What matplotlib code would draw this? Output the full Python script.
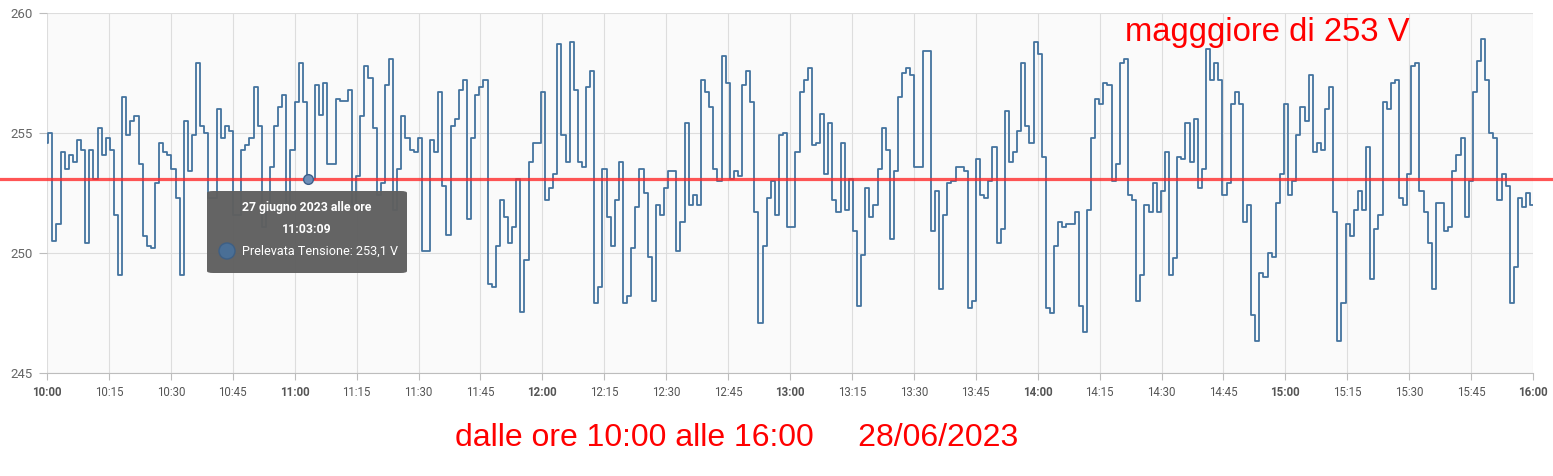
import matplotlib
matplotlib.use('Agg')
import matplotlib.pyplot as plt
from matplotlib.patches import FancyBboxPatch, Ellipse
from matplotlib.lines import Line2D
from matplotlib.transforms import blended_transform_factory
import numpy as np
import pandas as pd

# dati: tensione prelevata, un campione circa ogni minuto dalle 10:00 alle 16:00
start = pd.Timestamp('2023-06-28 10:00')
end = pd.Timestamp('2023-06-28 16:00')
first_value = 254.6          # valore alle 10:00 prima del primo campione
first_sample_min = 0.3       # minuti dopo le 10:00 del primo campione
last_sample_min = 359.35     # minuti dopo le 10:00 dell'ultimo campione

tensione = [
    255.0, 250.5, 251.2, 254.2, 253.5, 254.1, 253.8, 254.7, 254.3, 250.4,
    254.3, 253.1, 255.2, 254.1, 254.8, 254.3, 251.6, 249.1, 256.5, 254.9,
    255.5, 255.7, 253.7, 250.7, 250.3, 250.2, 252.9, 254.6, 254.2, 254.1,
    253.5, 252.3, 249.1, 255.5, 253.4, 254.9, 257.9, 255.3, 255.0, 252.3,
    252.3, 256.0, 254.8, 255.3, 255.1, 251.6, 251.6, 254.3, 254.5, 254.8,
    256.9, 255.3, 251.1, 251.8, 253.6, 255.3, 256.1, 256.6, 251.9, 254.3,
    256.3, 257.9, 256.3, 253.1, 253.1, 257.0, 255.75, 257.1, 253.7, 253.7,
    256.4, 256.35, 256.35, 256.8, 252.0, 253.2, 255.7, 257.8, 257.3, 255.2,
    252.4, 252.9, 257.0, 258.1, 251.8, 253.5, 255.7, 254.8, 254.3, 254.2,
    254.8, 250.1, 250.1, 254.7, 254.2, 256.7, 252.8, 250.75, 255.3, 255.6,
    256.8, 257.2, 251.4, 254.8, 256.6, 256.9, 257.2, 248.7, 248.6, 250.3,
    252.2, 251.5, 250.4, 251.1, 253.1, 247.55, 249.7, 253.8, 254.6, 254.6,
    256.7, 252.2, 252.7, 253.3, 258.7, 254.9, 253.8, 258.8, 256.8, 253.8,
    253.6, 256.9, 257.6, 247.9, 248.6, 253.5, 251.5, 250.3, 252.2, 253.8,
    247.9, 248.2, 250.2, 251.9, 253.5, 252.5, 249.85, 248.0, 252.0, 251.6,
    252.7, 253.4, 253.4, 250.1, 251.3, 255.4, 252.0, 252.4, 252.0, 257.2,
    256.7, 256.1, 253.5, 253.0, 258.2, 257.1, 253.1, 253.4, 253.2, 257.0,
    257.6, 256.3, 251.7, 247.1, 250.3, 252.3, 253.0, 251.6, 254.9, 255.0,
    251.1, 251.1, 254.2, 256.7, 257.2, 257.7, 254.5, 254.6, 255.8, 253.3,
    255.4, 252.2, 251.7, 254.6, 251.8, 253.1, 250.9, 247.8, 249.9, 252.7,
    251.5, 252.0, 253.5, 255.2, 254.3, 250.6, 253.4, 256.5, 257.5, 257.7,
    257.4, 253.6, 253.6, 258.4, 258.4, 250.9, 252.6, 248.5, 251.6, 252.9,
    253.0, 253.6, 253.6, 253.4, 247.7, 248.0, 253.9, 252.4, 252.3, 253.0,
    254.4, 250.4, 251.0, 255.9, 253.8, 254.2, 255.1, 257.9, 255.3, 254.6,
    258.8, 258.3, 254.0, 247.7, 247.5, 250.3, 251.3, 251.1, 251.2, 251.2,
    251.7, 247.8, 246.7, 251.8, 254.8, 256.4, 256.2, 257.1, 257.0, 253.0,
    253.7, 257.9, 258.1, 252.4, 252.2, 248.0, 249.1, 252.0, 251.7, 252.9,
    251.7, 252.6, 254.2, 249.1, 249.8, 254.0, 253.9, 255.4, 253.8, 255.6,
    252.7, 253.5, 258.5, 257.2, 257.9, 257.2, 252.4, 252.9, 256.2, 256.7,
    256.2, 251.3, 252.0, 247.4, 246.35, 249.15, 249.0, 250.0, 249.85, 252.1,
    253.3, 256.2, 252.4, 253.0, 254.9, 256.1, 255.5, 257.4, 254.2, 254.6,
    254.3, 256.0, 256.9, 251.7, 246.35, 247.9, 251.2, 250.7, 251.8, 252.6,
    251.8, 254.4, 248.9, 251.0, 251.6, 256.3, 256.0, 257.1, 257.2, 252.3,
    252.0, 253.3, 257.8, 257.9, 252.6, 251.7, 250.4, 248.5, 252.1, 252.1,
    250.9, 251.1, 253.4, 254.1, 254.8, 251.5, 253.0, 256.7, 258.0, 258.9,
    257.2, 255.0, 254.8, 252.2, 253.3, 252.8, 247.9, 249.4, 252.3, 251.9,
    252.5, 252.0,
]

soglia = 253.1
punto_ora = pd.Timestamp('2023-06-28 11:03:09')
punto_valore = 253.1

y_ticks = [245, 250, 255, 260]
x_ticks = pd.date_range(start, end, freq='15min')
x_labels = [t.strftime('%H:%M') for t in x_ticks]

titolo = 'magggiore di 253 V'
sottotitolo = 'dalle ore 10:00 alle 16:00     28/06/2023'
tooltip_riga1 = '27 giugno 2023 alle ore'
tooltip_riga2 = '11:03:09'
tooltip_riga3 = 'Prelevata Tensione: 253,1 V'

# tempi dei campioni
minuti = np.linspace(first_sample_min, last_sample_min, len(tensione))
tempi = [start] + list(start + pd.to_timedelta(minuti, unit='m')) + [end]
valori = [first_value] + tensione + [tensione[-1]]

W, H = 1553, 476
fig = plt.figure(figsize=(W / 100, H / 100), dpi=100)
fig.patch.set_facecolor('white')
ax = fig.add_axes([47 / W, 1 - 373 / H, (1533 - 47) / W, (373 - 13) / H])
ax.set_facecolor('#fafafa')

ax.step(tempi, valori, where='post', color='#44739f', lw=1.3, zorder=2)

ax.set_xlim(start, end)
ax.set_ylim(245, 260)
ax.set_yticks(y_ticks)
ax.set_xticks(x_ticks)
ax.set_xticklabels(x_labels)
for lab in ax.get_xticklabels():
    lab.set_fontfamily('Roboto')
    lab.set_fontsize(8.3)
    lab.set_color('#555555')
    if lab.get_text().endswith(':00'):
        lab.set_fontweight('bold')
for lab in ax.get_yticklabels():
    lab.set_fontfamily('Roboto')
    lab.set_fontsize(9.5)
    lab.set_color('#666666')

ax.grid(True, color='#dddddd', lw=0.8)
ax.set_axisbelow(True)
for s in ['top', 'right', 'left']:
    ax.spines[s].set_visible(False)
ax.spines['bottom'].set_color('#bdbdbd')
ax.tick_params(axis='x', colors='#bdbdbd', length=5, pad=4, labelcolor='#555555')
ax.tick_params(axis='y', colors='#bdbdbd', length=6, pad=4, labelcolor='#666666')

# linea rossa della soglia, su tutta la larghezza
trans = blended_transform_factory(fig.transFigure, ax.transData)
ax.add_line(Line2D([0, 1], [soglia, soglia], transform=trans, color='#ff2a2a',
                   lw=2.3, alpha=0.8, clip_on=False, zorder=3))

# punto evidenziato
ax.plot([punto_ora], [punto_valore], 'o', ms=7, color='#6f8fb8', mec='#3d5f8a',
        mew=1, zorder=4)

# tooltip
fig.add_artist(FancyBboxPatch((207 / W, 1 - 273 / H), 200 / W, 82 / H,
                              boxstyle='round,pad=0,rounding_size=0.004',
                              transform=fig.transFigure, facecolor='#5f5f5f',
                              edgecolor='none', alpha=0.97, zorder=5))
fig.text(307 / W, 1 - 208 / H, tooltip_riga1, ha='center', va='center',
         color='white', fontweight='bold', fontsize=8.8, family='Roboto', zorder=6)
fig.text(307 / W, 1 - 229 / H, tooltip_riga2, ha='center', va='center',
         color='white', fontweight='bold', fontsize=8.8, family='Roboto', zorder=6)
fig.add_artist(Ellipse((227 / W, 1 - 251 / H), 16 / W, 16 / H,
                       transform=fig.transFigure, facecolor='#4a6f96',
                       edgecolor='#3d5f85', zorder=6))
fig.text(242 / W, 1 - 251 / H, tooltip_riga3, ha='left', va='center',
         color='white', fontsize=9.1, family='Roboto', zorder=6)

# scritte rosse
fig.text(1125 / W, 1 - 32 / H, titolo, ha='left', va='center', color='red',
         fontsize=23.6, family='Liberation Sans')
fig.text(455 / W, 1 - 438 / H, sottotitolo, ha='left', va='center', color='red',
         fontsize=23, family='Liberation Sans')

fig.savefig('out.png', dpi=100, facecolor='white')
